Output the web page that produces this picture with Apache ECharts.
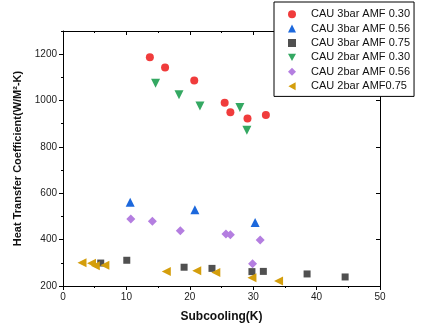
<!DOCTYPE html>
<html>
<head>
<meta charset="utf-8">
<script src="https://cdn.jsdelivr.net/npm/echarts@6/dist/echarts.min.js"></script>
<style>html,body{margin:0;padding:0;background:#fff}#c{width:421px;height:333px}</style>
</head>
<body>
<div id="c"></div>
<script>
var seriesNames = ['CAU 3bar AMF 0.30','CAU 3bar AMF 0.56','CAU 3bar AMF 0.75','CAU 2bar AMF 0.30','CAU 2bar AMF 0.56','CAU 2bar AMF0.75'];
var cau3bar030 = [[13.7,1187],[16.1,1143],[20.7,1087],[25.5,990],[26.4,949],[29.1,923],[32.0,938]];
var cau3bar056 = [[10.6,561],[20.8,529],[30.3,474]];
var cau3bar075 = [[5.95,299],[10.06,311],[19.1,281],[23.5,276],[29.8,262],[31.6,263],[38.5,252],[44.5,239]];
var cau2bar030 = [[14.6,1075],[18.3,1025],[21.6,977],[27.9,970],[29.0,872]];
var cau2bar056 = [[10.7,489],[14.1,479],[18.5,438],[25.7,424],[26.4,421],[31.1,398],[29.9,296]];
var cau2bar075 = [[3.0,300],[4.5,298],[5.1,287],[6.6,290],[16.3,263],[21.1,266],[24.1,258],[29.8,236],[34.0,222]];
var yMajorTicks = [200,400,600,800,1000,1200];

var FONT = 'Arial, "Liberation Sans", sans-serif';
var chart = echarts.init(document.getElementById('c'), null, {renderer:'canvas'});
function ser(name, data, symbol, size, rot, color){
  return {type:'scatter', name:name, data:data, symbol:symbol, symbolSize:size, symbolRotate:rot,
    xAxisIndex:0, yAxisIndex:0, itemStyle:{color:color, opacity:1}, z:3};
}
var DOWN_TRI = 'path://M0,0 L10,0 L5,9 Z';
var LEFT_TRI = 'path://M9,0 L9,10 L0,5 Z';
var lineStyle = {color:'#000', width:1};
chart.setOption({
  animation:false,
  backgroundColor:'#fff',
  grid:{left:63, right:41, top:31, bottom:47, containLabel:false},
  legend:{
    orient:'vertical', left:274, top:2,
    backgroundColor:'#fff', borderColor:'#000', borderWidth:1,
    padding:[5,4,3,14], itemWidth:8, itemHeight:8, itemGap:0,
    textStyle:{fontFamily:FONT, fontSize:11, color:'#111', lineHeight:14.4, padding:[0,0,0,10]},
    data:[
      {name:seriesNames[0], icon:'circle'},
      {name:seriesNames[1], icon:'triangle'},
      {name:seriesNames[2], icon:'rect'},
      {name:seriesNames[3], icon:DOWN_TRI},
      {name:seriesNames[4], icon:'diamond'},
      {name:seriesNames[5], icon:LEFT_TRI}
    ], z:10
  },
  xAxis:[
    {type:'value', position:'bottom', min:0, max:50, interval:10,
     axisLine:{show:true, onZero:false, lineStyle:lineStyle},
     axisTick:{show:true, inside:false, length:4, lineStyle:lineStyle},
     minorTick:{show:true, splitNumber:2, length:2, lineStyle:lineStyle},
     axisLabel:{fontFamily:FONT, fontSize:10, color:'#222', margin:6},
     splitLine:{show:false},
     name:'Subcooling(K)', nameLocation:'middle', nameGap:25,
     nameTextStyle:{fontFamily:FONT, fontSize:12, fontWeight:'bold', color:'#111'}},
    {type:'value', position:'top', min:0, max:50, interval:10,
     axisLine:{show:true, onZero:false, lineStyle:lineStyle},
     axisTick:{show:true, inside:true, length:4, lineStyle:lineStyle},
     minorTick:{show:true, splitNumber:2, length:2, lineStyle:lineStyle},
     axisLabel:{show:false}, splitLine:{show:false}}
  ],
  yAxis:[
    {type:'value', position:'left', min:200, max:1300, interval:100,
     axisLine:{show:true, onZero:false, lineStyle:lineStyle},
     axisTick:{show:true, inside:false, length:4, customValues:yMajorTicks, lineStyle:lineStyle},
     axisLabel:{fontFamily:FONT, fontSize:10, color:'#222', margin:6, customValues:yMajorTicks,
       formatter:function(v){return String(v);}},
     splitLine:{show:false},
     name:'Heat Transfer Coefficient(W/M\u00B2-K)', nameLocation:'middle', nameRotate:90, nameGap:27,
     nameTextStyle:{fontFamily:FONT, fontSize:11, fontWeight:'bold', color:'#111'}},
    {type:'value', position:'left', min:200, max:1300, interval:100,
     axisLine:{show:false}, axisTick:{show:true, inside:false, length:2, lineStyle:lineStyle},
     axisLabel:{show:false}, splitLine:{show:false}},
    {type:'value', position:'right', min:200, max:1300, interval:100,
     axisLine:{show:true, onZero:false, lineStyle:lineStyle},
     axisTick:{show:true, inside:true, length:4, customValues:yMajorTicks, lineStyle:lineStyle},
     axisLabel:{show:false}, splitLine:{show:false}},
    {type:'value', position:'right', min:200, max:1300, interval:100,
     axisLine:{show:false}, axisTick:{show:true, inside:true, length:2, lineStyle:lineStyle},
     axisLabel:{show:false}, splitLine:{show:false}}
  ],
  series:[
    ser(seriesNames[0], cau3bar030, 'circle', 8, 0, '#F03C3C'),
    ser(seriesNames[1], cau3bar056, 'triangle', 9, 0, '#1C68DC'),
    ser(seriesNames[2], cau3bar075, 'rect', 7, 0, '#505050'),
    ser(seriesNames[3], cau2bar030, 'triangle', 9, 180, '#34A862'),
    ser(seriesNames[4], cau2bar056, 'diamond', 9, 0, '#B47EE0'),
    ser(seriesNames[5], cau2bar075, 'triangle', 9, 90, '#D49E0C')
  ]
});
</script>
</body>
</html>
